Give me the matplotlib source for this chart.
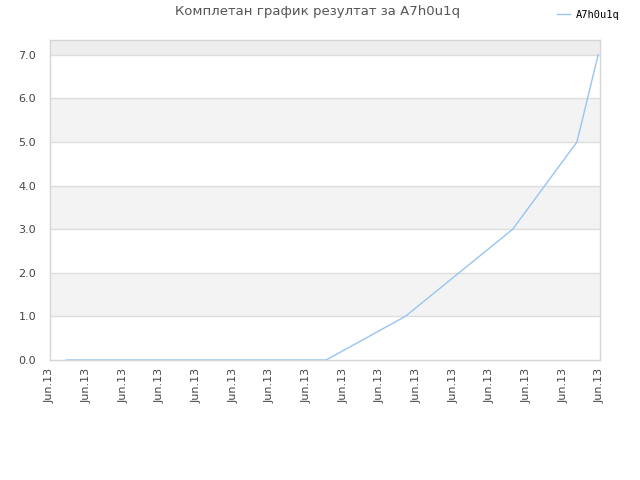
import matplotlib.pyplot as plt
import numpy as np

# data (x in tick units, 0..15)
x_vals = [0.44, 7.53, 9.69, 12.62, 14.37, 14.95]
y_vals = [0, 0, 1, 3, 5, 7]
tick_labels = ["Jun.13"] * 16
series_name = "A7h0u1q"
title = "Комплетан график резултат за A7h0u1q"

fig = plt.figure(figsize=(6.4, 4.8), dpi=100)
ax = fig.add_axes([50 / 640, 1 - 360 / 480, 550 / 640, 320 / 480])

y_top = 7.34
ax.set_xlim(0, 15)
ax.set_ylim(0, y_top)

# alternating bands
for i in range(8):
    lo = i
    hi = min(i + 1, y_top)
    if i == 7:
        col = "#eeeeee"
    elif i % 2 == 1:
        col = "#f3f3f3"
    else:
        col = "#ffffff"
    ax.axhspan(lo, hi, color=col, zorder=0, lw=0)
for v in range(1, 8):
    ax.axhline(v, color="#dddddd", lw=1, zorder=1)

ax.plot(x_vals, y_vals, color="#99c4f2", lw=1, zorder=3, label=series_name)

ax.set_yticks(range(8))
ax.set_yticklabels([f"{v:.1f}" for v in range(8)], fontsize=8, color="#444444")
ax.set_xticks(np.arange(16))
ax.set_xticklabels(tick_labels, rotation=90, fontsize=8, color="#444444")
ax.tick_params(length=0, pad=6)
ax.tick_params(axis="y", pad=10)

for s in ax.spines.values():
    s.set_color("#d5d5d5")
    s.set_linewidth(1)

fig.text(318 / 640, 1 - 12 / 480, title, ha="center", va="center",
         fontsize=9.5, color="#555555")
leg = fig.legend(loc="center left", bbox_to_anchor=(548 / 640, 1 - 15 / 480),
                 frameon=False, fontsize=7.5, handlelength=1.2, handletextpad=0.6,
                 prop={"family": "DejaVu Sans Mono", "size": 7.5})

fig.savefig("out.png", dpi=100)
